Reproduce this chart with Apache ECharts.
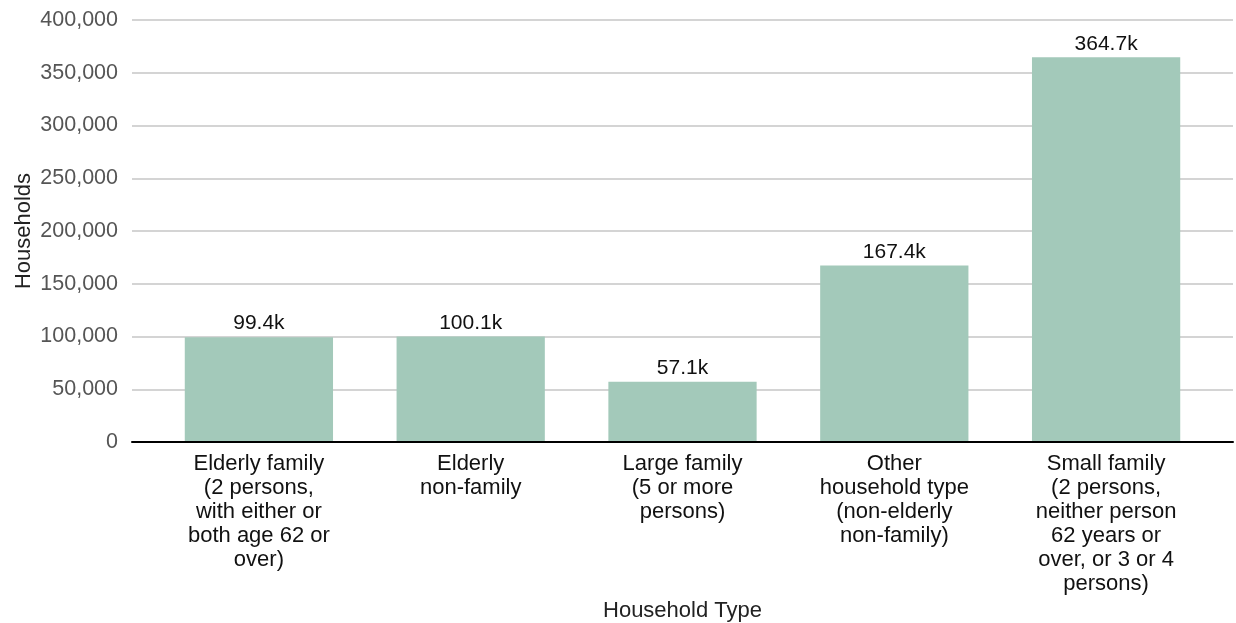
<!DOCTYPE html>
<html>
<head>
<meta charset="utf-8">
<script src="https://cdn.jsdelivr.net/npm/echarts@6/dist/echarts.min.js"></script>
<style>
  html, body { margin: 0; padding: 0; background: #fff; }
  #chart { width: 1236px; height: 623px; }
</style>
</head>
<body>
<div id="chart"></div>
<script>
// Household counts by household type
const categories = [
  'Elderly family\n(2 persons,\nwith either or\nboth age 62 or\nover)',
  'Elderly\nnon-family',
  'Large family\n(5 or more\npersons)',
  'Other\nhousehold type\n(non-elderly\nnon-family)',
  'Small family\n(2 persons,\nneither person\n62 years or\nover, or 3 or 4\npersons)'
];
const households = [99400, 100100, 57100, 167400, 364700];
const yTicks = { min: 0, max: 400000, interval: 50000 };

const FONT = '"Liberation Sans", Arial, sans-serif';
const chart = echarts.init(document.getElementById('chart'));

// Grid 0 carries the value axis, gridlines and baseline across the full width;
// grid 1 is slightly inset and holds the category bands and bars.
const TOP = 20, BOTTOM = 181;

chart.setOption({
  animation: false,
  textStyle: { fontFamily: FONT },
  grid: [
    { left: 132, right: 3, top: TOP, bottom: BOTTOM, containLabel: false, outerBoundsMode: 'none' },
    { left: 153, right: 24, top: TOP, bottom: BOTTOM, containLabel: false, outerBoundsMode: 'none' }
  ],
  xAxis: [
    {
      gridIndex: 0,
      type: 'value',
      min: 0,
      max: 1,
      axisLine: { show: true, onZero: false, lineStyle: { color: '#000', width: 2 } },
      axisTick: { show: false },
      axisLabel: { show: false },
      splitLine: { show: false },
      z: 5
    },
    {
      gridIndex: 1,
      type: 'category',
      data: categories,
      name: 'Household Type',
      nameLocation: 'middle',
      nameGap: 158,
      nameMoveOverlap: false,
      nameTextStyle: { fontFamily: FONT, fontSize: 22, color: '#222' },
      axisLine: { show: false },
      axisTick: { show: false },
      axisLabel: {
        interval: 0,
        margin: 10,
        fontFamily: FONT,
        fontSize: 22,
        lineHeight: 24,
        color: '#111',
        align: 'center'
      }
    }
  ],
  yAxis: [
    {
      gridIndex: 0,
      type: 'value',
      min: yTicks.min,
      max: yTicks.max,
      interval: yTicks.interval,
      name: 'Households',
      nameLocation: 'middle',
      nameGap: 97,
      nameMoveOverlap: false,
      nameTextStyle: { fontFamily: FONT, fontSize: 22, color: '#222' },
      axisLine: { show: false },
      axisTick: { show: false },
      axisLabel: {
        margin: 14,
        fontFamily: FONT,
        fontSize: 21.5,
        color: '#555',
        padding: [3, 0, 0, 0],
        formatter: v => v.toLocaleString('en-US')
      },
      splitLine: { lineStyle: { color: '#d4d4d4', width: 2 } }
    },
    {
      gridIndex: 1,
      type: 'value',
      min: yTicks.min,
      max: yTicks.max,
      interval: yTicks.interval,
      show: false,
      splitLine: { show: false }
    }
  ],
  series: [{
    type: 'bar',
    xAxisIndex: 1,
    yAxisIndex: 1,
    data: households,
    barWidth: '70%',
    itemStyle: { color: '#a3c9ba' },
    label: {
      show: true,
      position: 'top',
      distance: 3,
      fontFamily: FONT,
      fontSize: 21,
      color: '#111',
      formatter: p => (p.value / 1000).toFixed(1) + 'k'
    }
  }]
});
</script>
</body>
</html>
